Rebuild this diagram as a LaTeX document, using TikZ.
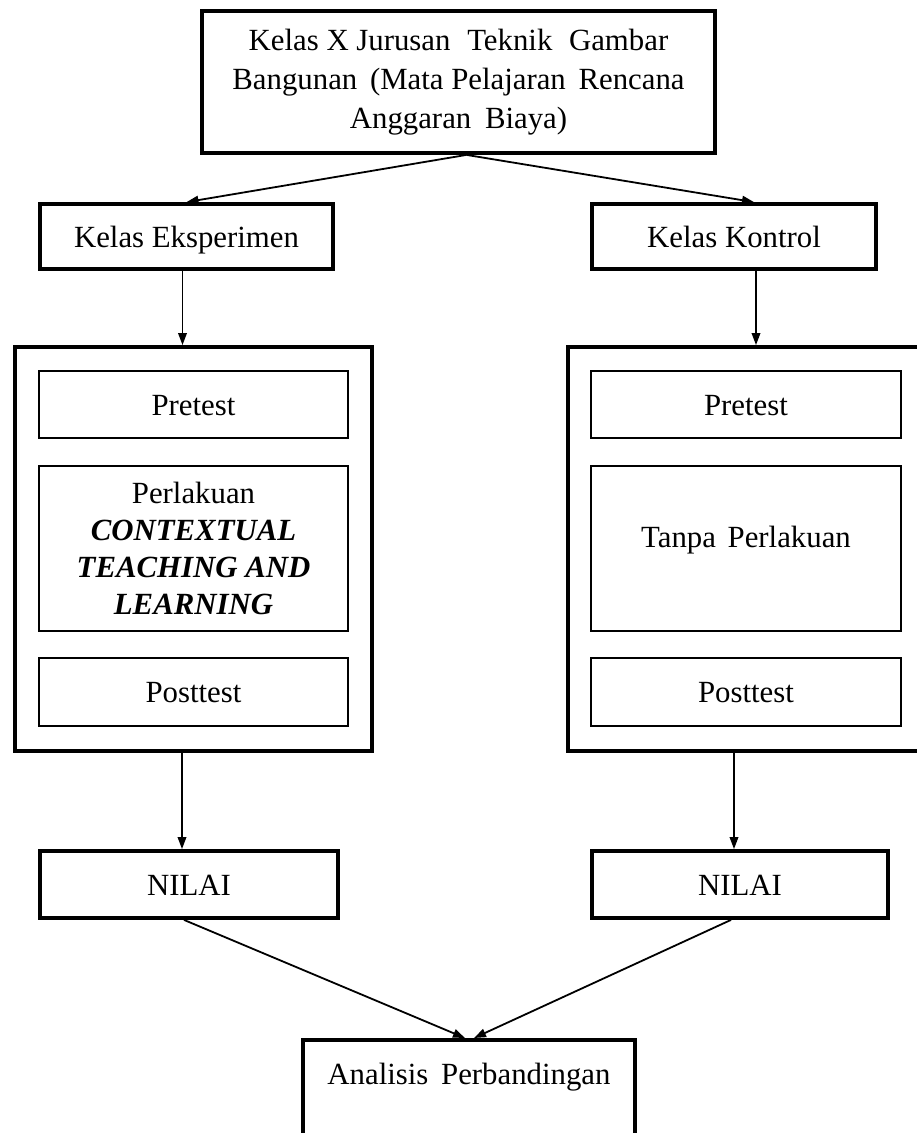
\documentclass[tikz,border=0pt]{standalone}
\usepackage{fontspec}
\setmainfont{Liberation Serif}
\usetikzlibrary{arrows.meta,calc}
\newcommand\figfont{\fontsize{30.8}{37}\selectfont}
\begin{document}
\begin{tikzpicture}[x=1pt,y=-1pt,
  heavybox/.style={draw, line width=3.8pt, inner sep=0pt, align=center, font=\figfont},
  lightbox/.style={draw, line width=1.6pt, inner sep=0pt, align=center, font=\figfont},
  oneline/.style={text height=24pt, text depth=3pt},
  conn/.style={line width=1.8pt, -{Triangle[length=12pt,width=8.5pt]}}]
\useasboundingbox[fill=white] (0,0) rectangle (917,1133);

% top box
\node[heavybox, minimum width=513pt, minimum height=142pt,
      font=\fontsize{30.8}{39}\selectfont] (top) at (458.5,82)
  {Kelas X Jurusan\hspace{9pt} Teknik\hspace{9pt} Gambar\\
   Bangunan\hspace{5pt} (Mata Pelajaran\hspace{5pt} Rencana\\
   Anggaran\hspace{6pt} Biaya)};

% class boxes
\node[heavybox, oneline, minimum width=293pt, minimum height=65pt] (KE) at (186.5,236.5) {Kelas Eksperimen};
\node[heavybox, oneline, minimum width=284pt, minimum height=65pt] (KK) at (734,236.5) {Kelas Kontrol};

% big frames
\node[heavybox, minimum width=357pt, minimum height=404pt] (BL) at (193.5,549) {};
\node[heavybox, minimum width=356pt, minimum height=404pt] (BR) at (746,549) {};

% inner left
\node[lightbox, oneline, minimum width=309pt, minimum height=67pt] (PL1) at (193.5,404.5) {Pretest};
\node[lightbox, minimum width=309pt, minimum height=165pt] (PL2) at (193.5,548.5)
  {Perlakuan\\ \textbf{\textit{CONTEXTUAL}}\\ \textbf{\textit{TEACHING AND}}\\ \textbf{\textit{LEARNING}}};
\node[lightbox, oneline, minimum width=309pt, minimum height=68pt] (PL3) at (193.5,692) {Posttest};

% inner right
\node[lightbox, oneline, minimum width=310pt, minimum height=67pt] (PR1) at (746,404.5) {Pretest};
\node[lightbox, minimum width=310pt, minimum height=165pt, align=left,
      text height=81pt, text depth=84pt] (PR2) at (746,548.5) {Tanpa\hspace{4pt} Perlakuan};
\node[lightbox, oneline, minimum width=310pt, minimum height=68pt] (PR3) at (746,692) {Posttest};

% NILAI boxes
\node[heavybox, oneline, minimum width=298pt, minimum height=67pt] (NL) at (189,884.5) {NILAI};
\node[heavybox, oneline, minimum width=296pt, minimum height=67pt] (NR) at (740,884.5) {NILAI};

% analysis box
\node[heavybox, anchor=north, minimum width=332pt, align=left,
      text height=45pt, text depth=80pt] (AN) at (469,1038)
  {Analisis\hspace{5pt} Perbandingan};

% connectors
\coordinate (ts) at ($(top.south)+(8,0)$);
\draw[conn] (ts) -- (KE.north);
\draw[conn] (ts) -- ([xshift=20pt]KK.north);
\draw[conn] ([xshift=-4pt]KE.south) -- ([xshift=-4pt]KE.south |- BL.north);
\draw[conn] ([xshift=22pt]KK.south) -- ([xshift=22pt]KK.south |- BR.north);
\draw[conn] ([xshift=-11.5pt]BL.south) -- ([xshift=-11.5pt]BL.south |- NL.north);
\draw[conn] ([xshift=-12pt]BR.south) -- ([xshift=-12pt]BR.south |- NR.north);
\draw[conn] ([xshift=-5pt]NL.south) -- ([xshift=-4pt]AN.north);
\draw[conn] ([xshift=-9pt]NR.south) -- ([xshift=5pt]AN.north);
\end{tikzpicture}
\end{document}
